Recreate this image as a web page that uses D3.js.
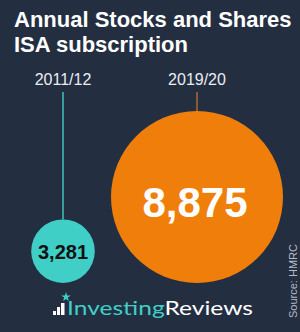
<!DOCTYPE html>
<html><head><meta charset="utf-8">
<script src="https://cdn.jsdelivr.net/npm/d3@7/dist/d3.min.js"></script>
<style>html,body{margin:0;padding:0;background:#242e41;}svg{display:block;}</style>
</head><body>
<script>
const titleLines = ["Annual Stocks and Shares", "ISA subscription"];
const categories = ["2011/12", "2019/20"];
const values = [3281, 8875];
const valueLabels = ["3,281", "8,875"];
const source = "Source: HMRC";

const W = 300, H = 332;
const svg = d3.select("body").append("svg").attr("width", W).attr("height", H);
svg.append("rect").attr("width", W).attr("height", H).attr("fill", "#242e41");

const font = "'Liberation Sans', Arial, Helvetica, sans-serif";
svg.selectAll("text.title").data(titleLines).join("text")
  .attr("x", 14).attr("y", (d, i) => 27 + i * 25)
  .attr("fill", "#ffffff").attr("font-family", font).attr("font-weight", "bold")
  .attr("font-size", 22).text(d => d);

const x = d3.scalePoint().domain(categories).range([63, 197]);
const r = d3.scaleLinear().domain([0, d3.max(values)]).range([0, 86]);
const baseY = 283;
const fills = ["#3fcfc7", "#f07e0b"];
const lineCols = ["#3fc3bd", "#a86c2c"];
const textCols = ["#111111", "#ffffff"];
const data = categories.map((c, i) => ({c, v: values[i], lab: valueLabels[i], i}));

const g = svg.append("g");
g.selectAll("line.stem").data(data).join("line")
  .attr("x1", d => x(d.c)).attr("x2", d => x(d.c))
  .attr("y1", 92).attr("y2", d => baseY - 2 * r(d.v))
  .attr("stroke", d => lineCols[d.i]).attr("stroke-width", 1.5);

g.selectAll("text.cat").data(data).join("text")
  .attr("x", d => x(d.c)).attr("y", 85).attr("text-anchor", "middle")
  .attr("fill", "#e9edf2").attr("font-family", font).attr("font-size", 16)
  .text(d => d.c);

g.selectAll("circle").data(data).join("circle")
  .attr("cx", d => x(d.c)).attr("cy", d => baseY - r(d.v)).attr("r", d => r(d.v))
  .attr("fill", d => fills[d.i]);

g.selectAll("text.val").data(data).join("text")
  .attr("x", d => x(d.c) - (d.i ? 2 : 0))
  .attr("y", d => baseY - r(d.v) + (d.i ? 20 : 8))
  .attr("text-anchor", "middle").attr("fill", d => textCols[d.i])
  .attr("font-family", font).attr("font-weight", "bold")
  .attr("font-size", d => d.i ? 42 : 20).text(d => d.lab);

// logo
const logo = svg.append("g");
const bars = [[53, 311, 3, 4], [57, 307, 3, 8], [61, 303, 3.5, 12]];
logo.selectAll("rect").data(bars).join("rect")
  .attr("x", d => d[0]).attr("y", d => d[1]).attr("width", d => d[2]).attr("height", d => d[3])
  .attr("fill", "#ffffff");
const star = d3.symbol().type(d3.symbolStar).size(28);
logo.append("path").attr("d", star()).attr("transform", "translate(66,297)").attr("fill", "#3fcfc7");
const lt = logo.append("text").attr("x", 67).attr("y", 315)
  .attr("font-family", "Lato, 'Open Sans', sans-serif").attr("font-size", 20)
  .attr("textLength", 186).attr("lengthAdjust", "spacingAndGlyphs");
lt.append("tspan").attr("fill", "#3fcfc7").text("Investing");
lt.append("tspan").attr("fill", "#ffffff").text("Reviews");

svg.append("text").attr("transform", "translate(297,281) rotate(-90)")
  .attr("text-anchor", "middle").attr("fill", "#b4bac4")
  .attr("font-family", font).attr("font-size", 11).text(source);
</script>
</body></html>
